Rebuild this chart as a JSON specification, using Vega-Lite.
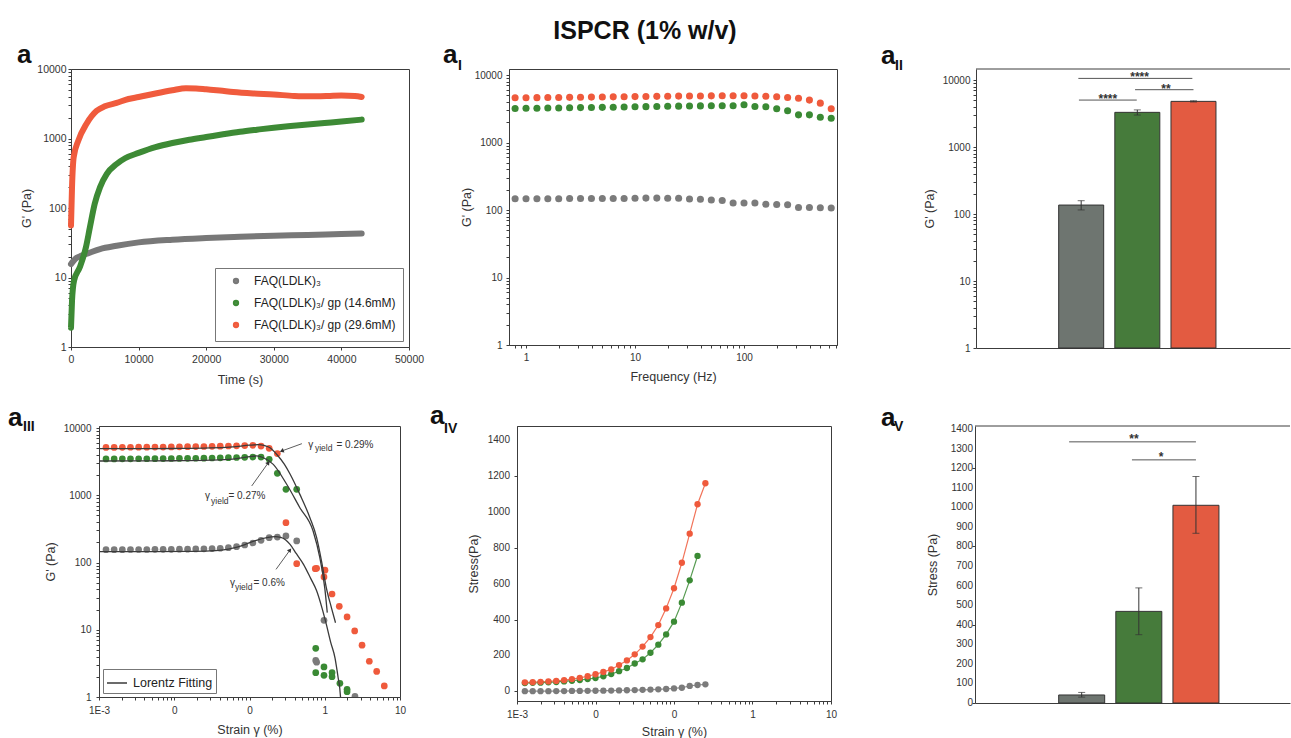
{
  "$schema": "https://vega.github.io/schema/vega-lite/v6.json",
  "background": "white",
  "padding": {"left": 0, "top": 18, "right": 0, "bottom": 0},
  "config": {
    "font": "Liberation Sans",
    "view": {"stroke": "#3c3c3c", "strokeWidth": 1},
    "axis": {"grid": false, "labelFont": "Liberation Sans", "titleFont": "Liberation Sans", "labelFontSize": 10, "titleFontSize": 12.5, "titleFontWeight": "normal", "labelColor": "#333", "titleColor": "#333", "domainColor": "#3c3c3c", "tickColor": "#3c3c3c", "tickSize": 3, "labelFlush": false, "labelOverlap": false, "labelBound": false},
    "legend": {"labelFont": "Liberation Sans", "labelColor": "#222"}
  },
  "datasets": {
    "ts": [
      {"s": "FAQ(LDLK)₃", "t": 0, "g": 15.6}, {"s": "FAQ(LDLK)₃", "t": 300, "g": 17}, {"s": "FAQ(LDLK)₃", "t": 600, "g": 18.4}, {"s": "FAQ(LDLK)₃", "t": 1500, "g": 20.5}, {"s": "FAQ(LDLK)₃", "t": 2500, "g": 22.2}, {"s": "FAQ(LDLK)₃", "t": 4300, "g": 25.7}, {"s": "FAQ(LDLK)₃", "t": 6750, "g": 28.6}, {"s": "FAQ(LDLK)₃", "t": 10000, "g": 32}, {"s": "FAQ(LDLK)₃", "t": 15000, "g": 35}, {"s": "FAQ(LDLK)₃", "t": 20000, "g": 37}, {"s": "FAQ(LDLK)₃", "t": 25000, "g": 38.6}, {"s": "FAQ(LDLK)₃", "t": 30000, "g": 40}, {"s": "FAQ(LDLK)₃", "t": 35000, "g": 41}, {"s": "FAQ(LDLK)₃", "t": 40000, "g": 42.3}, {"s": "FAQ(LDLK)₃", "t": 43000, "g": 43},
      {"s": "FAQ(LDLK)₃/ gp (14.6mM)", "t": 0, "g": 1.9}, {"s": "FAQ(LDLK)₃/ gp (14.6mM)", "t": 150, "g": 4.6}, {"s": "FAQ(LDLK)₃/ gp (14.6mM)", "t": 450, "g": 9}, {"s": "FAQ(LDLK)₃/ gp (14.6mM)", "t": 1300, "g": 14}, {"s": "FAQ(LDLK)₃/ gp (14.6mM)", "t": 2200, "g": 27}, {"s": "FAQ(LDLK)₃/ gp (14.6mM)", "t": 2800, "g": 53}, {"s": "FAQ(LDLK)₃/ gp (14.6mM)", "t": 3500, "g": 114}, {"s": "FAQ(LDLK)₃/ gp (14.6mM)", "t": 4300, "g": 200}, {"s": "FAQ(LDLK)₃/ gp (14.6mM)", "t": 5300, "g": 310}, {"s": "FAQ(LDLK)₃/ gp (14.6mM)", "t": 6750, "g": 430}, {"s": "FAQ(LDLK)₃/ gp (14.6mM)", "t": 8000, "g": 520}, {"s": "FAQ(LDLK)₃/ gp (14.6mM)", "t": 10000, "g": 620}, {"s": "FAQ(LDLK)₃/ gp (14.6mM)", "t": 12500, "g": 750}, {"s": "FAQ(LDLK)₃/ gp (14.6mM)", "t": 15000, "g": 860}, {"s": "FAQ(LDLK)₃/ gp (14.6mM)", "t": 17500, "g": 960}, {"s": "FAQ(LDLK)₃/ gp (14.6mM)", "t": 20000, "g": 1050}, {"s": "FAQ(LDLK)₃/ gp (14.6mM)", "t": 22500, "g": 1150}, {"s": "FAQ(LDLK)₃/ gp (14.6mM)", "t": 25000, "g": 1250}, {"s": "FAQ(LDLK)₃/ gp (14.6mM)", "t": 27500, "g": 1340}, {"s": "FAQ(LDLK)₃/ gp (14.6mM)", "t": 30000, "g": 1430}, {"s": "FAQ(LDLK)₃/ gp (14.6mM)", "t": 32500, "g": 1510}, {"s": "FAQ(LDLK)₃/ gp (14.6mM)", "t": 35000, "g": 1590}, {"s": "FAQ(LDLK)₃/ gp (14.6mM)", "t": 37500, "g": 1670}, {"s": "FAQ(LDLK)₃/ gp (14.6mM)", "t": 40000, "g": 1750}, {"s": "FAQ(LDLK)₃/ gp (14.6mM)", "t": 43000, "g": 1870},
      {"s": "FAQ(LDLK)₃/ gp (29.6mM)", "t": 0, "g": 56}, {"s": "FAQ(LDLK)₃/ gp (29.6mM)", "t": 150, "g": 200}, {"s": "FAQ(LDLK)₃/ gp (29.6mM)", "t": 400, "g": 540}, {"s": "FAQ(LDLK)₃/ gp (29.6mM)", "t": 1100, "g": 940}, {"s": "FAQ(LDLK)₃/ gp (29.6mM)", "t": 2300, "g": 1630}, {"s": "FAQ(LDLK)₃/ gp (29.6mM)", "t": 3800, "g": 2500}, {"s": "FAQ(LDLK)₃/ gp (29.6mM)", "t": 5000, "g": 2900}, {"s": "FAQ(LDLK)₃/ gp (29.6mM)", "t": 6750, "g": 3250}, {"s": "FAQ(LDLK)₃/ gp (29.6mM)", "t": 8500, "g": 3700}, {"s": "FAQ(LDLK)₃/ gp (29.6mM)", "t": 10000, "g": 3950}, {"s": "FAQ(LDLK)₃/ gp (29.6mM)", "t": 12500, "g": 4450}, {"s": "FAQ(LDLK)₃/ gp (29.6mM)", "t": 15000, "g": 4950}, {"s": "FAQ(LDLK)₃/ gp (29.6mM)", "t": 17000, "g": 5300}, {"s": "FAQ(LDLK)₃/ gp (29.6mM)", "t": 18500, "g": 5250}, {"s": "FAQ(LDLK)₃/ gp (29.6mM)", "t": 20000, "g": 5100}, {"s": "FAQ(LDLK)₃/ gp (29.6mM)", "t": 22000, "g": 4900}, {"s": "FAQ(LDLK)₃/ gp (29.6mM)", "t": 24000, "g": 4670}, {"s": "FAQ(LDLK)₃/ gp (29.6mM)", "t": 27000, "g": 4450}, {"s": "FAQ(LDLK)₃/ gp (29.6mM)", "t": 30000, "g": 4300}, {"s": "FAQ(LDLK)₃/ gp (29.6mM)", "t": 33000, "g": 4100}, {"s": "FAQ(LDLK)₃/ gp (29.6mM)", "t": 35000, "g": 4040}, {"s": "FAQ(LDLK)₃/ gp (29.6mM)", "t": 38000, "g": 4100}, {"s": "FAQ(LDLK)₃/ gp (29.6mM)", "t": 40000, "g": 4170}, {"s": "FAQ(LDLK)₃/ gp (29.6mM)", "t": 42000, "g": 4100}, {"s": "FAQ(LDLK)₃/ gp (29.6mM)", "t": 43000, "g": 3960}
    ],
    "fq": [
      {"s": "g", "f": 0.794, "v": 147}, {"s": "g", "f": 1, "v": 147}, {"s": "g", "f": 1.259, "v": 147}, {"s": "g", "f": 1.585, "v": 147}, {"s": "g", "f": 1.995, "v": 147}, {"s": "g", "f": 2.512, "v": 148}, {"s": "g", "f": 3.162, "v": 148}, {"s": "g", "f": 3.981, "v": 148}, {"s": "g", "f": 5.012, "v": 148}, {"s": "g", "f": 6.31, "v": 148}, {"s": "g", "f": 7.943, "v": 148}, {"s": "g", "f": 10, "v": 149}, {"s": "g", "f": 12.59, "v": 150}, {"s": "g", "f": 15.85, "v": 150}, {"s": "g", "f": 19.95, "v": 149}, {"s": "g", "f": 25.12, "v": 149}, {"s": "g", "f": 31.62, "v": 146}, {"s": "g", "f": 39.81, "v": 144}, {"s": "g", "f": 50.12, "v": 141}, {"s": "g", "f": 63.1, "v": 138}, {"s": "g", "f": 79.43, "v": 127}, {"s": "g", "f": 100, "v": 127}, {"s": "g", "f": 125.9, "v": 127}, {"s": "g", "f": 158.5, "v": 122}, {"s": "g", "f": 199.5, "v": 121}, {"s": "g", "f": 251.2, "v": 120}, {"s": "g", "f": 316.2, "v": 109}, {"s": "g", "f": 398.1, "v": 109}, {"s": "g", "f": 501.2, "v": 108}, {"s": "g", "f": 631, "v": 107},
      {"s": "gp14", "f": 0.794, "v": 3200}, {"s": "gp14", "f": 1, "v": 3210}, {"s": "gp14", "f": 1.259, "v": 3220}, {"s": "gp14", "f": 1.585, "v": 3240}, {"s": "gp14", "f": 1.995, "v": 3250}, {"s": "gp14", "f": 2.512, "v": 3270}, {"s": "gp14", "f": 3.162, "v": 3290}, {"s": "gp14", "f": 3.981, "v": 3300}, {"s": "gp14", "f": 5.012, "v": 3320}, {"s": "gp14", "f": 6.31, "v": 3340}, {"s": "gp14", "f": 7.943, "v": 3360}, {"s": "gp14", "f": 10, "v": 3380}, {"s": "gp14", "f": 12.59, "v": 3400}, {"s": "gp14", "f": 15.85, "v": 3420}, {"s": "gp14", "f": 19.95, "v": 3440}, {"s": "gp14", "f": 25.12, "v": 3460}, {"s": "gp14", "f": 31.62, "v": 3480}, {"s": "gp14", "f": 39.81, "v": 3490}, {"s": "gp14", "f": 50.12, "v": 3500}, {"s": "gp14", "f": 63.1, "v": 3510}, {"s": "gp14", "f": 79.43, "v": 3510}, {"s": "gp14", "f": 100, "v": 3620}, {"s": "gp14", "f": 125.9, "v": 3420}, {"s": "gp14", "f": 158.5, "v": 3380}, {"s": "gp14", "f": 199.5, "v": 3160}, {"s": "gp14", "f": 251.2, "v": 2950}, {"s": "gp14", "f": 316.2, "v": 2570}, {"s": "gp14", "f": 398.1, "v": 2570}, {"s": "gp14", "f": 501.2, "v": 2370}, {"s": "gp14", "f": 631, "v": 2290},
      {"s": "gp29", "f": 0.794, "v": 4600}, {"s": "gp29", "f": 1, "v": 4610}, {"s": "gp29", "f": 1.259, "v": 4620}, {"s": "gp29", "f": 1.585, "v": 4640}, {"s": "gp29", "f": 1.995, "v": 4650}, {"s": "gp29", "f": 2.512, "v": 4670}, {"s": "gp29", "f": 3.162, "v": 4690}, {"s": "gp29", "f": 3.981, "v": 4710}, {"s": "gp29", "f": 5.012, "v": 4730}, {"s": "gp29", "f": 6.31, "v": 4750}, {"s": "gp29", "f": 7.943, "v": 4770}, {"s": "gp29", "f": 10, "v": 4790}, {"s": "gp29", "f": 12.59, "v": 4810}, {"s": "gp29", "f": 15.85, "v": 4830}, {"s": "gp29", "f": 19.95, "v": 4850}, {"s": "gp29", "f": 25.12, "v": 4870}, {"s": "gp29", "f": 31.62, "v": 4880}, {"s": "gp29", "f": 39.81, "v": 4900}, {"s": "gp29", "f": 50.12, "v": 4910}, {"s": "gp29", "f": 63.1, "v": 4920}, {"s": "gp29", "f": 79.43, "v": 4920}, {"s": "gp29", "f": 100, "v": 4920}, {"s": "gp29", "f": 125.9, "v": 4900}, {"s": "gp29", "f": 158.5, "v": 4850}, {"s": "gp29", "f": 199.5, "v": 4760}, {"s": "gp29", "f": 251.2, "v": 4650}, {"s": "gp29", "f": 316.2, "v": 4540}, {"s": "gp29", "f": 398.1, "v": 4250}, {"s": "gp29", "f": 501.2, "v": 3830}, {"s": "gp29", "f": 631, "v": 3160}
    ],
    "b1": [
      {"s": "g", "pos": 1, "v": 136, "lo": 115, "hi": 158},
      {"s": "gp14", "pos": 2, "v": 3290, "lo": 3000, "hi": 3580},
      {"s": "gp29", "pos": 3, "v": 4800, "lo": 4700, "hi": 4900}
    ],
    "br1": [
      {"x1": 0.95, "x2": 2.98, "xm": 2.04, "y": 10570, "lab": "****"},
      {"x1": 0.96, "x2": 1.99, "xm": 1.475, "y": 5020, "lab": "****"},
      {"x1": 1.96, "x2": 3.0, "xm": 2.51, "y": 7170, "lab": "**"}
    ],
    "amp": [
      {"s": "g", "x": 0.001239, "g": 155}, {"s": "g", "x": 0.00159, "g": 155}, {"s": "g", "x": 0.002042, "g": 155}, {"s": "g", "x": 0.00262, "g": 156}, {"s": "g", "x": 0.003363, "g": 156}, {"s": "g", "x": 0.004317, "g": 156}, {"s": "g", "x": 0.005542, "g": 157}, {"s": "g", "x": 0.007113, "g": 157}, {"s": "g", "x": 0.009131, "g": 157}, {"s": "g", "x": 0.01172, "g": 158}, {"s": "g", "x": 0.01504, "g": 158}, {"s": "g", "x": 0.01931, "g": 159}, {"s": "g", "x": 0.02479, "g": 160}, {"s": "g", "x": 0.03182, "g": 161}, {"s": "g", "x": 0.04084, "g": 163}, {"s": "g", "x": 0.05243, "g": 166}, {"s": "g", "x": 0.0673, "g": 172}, {"s": "g", "x": 0.08641, "g": 182}, {"s": "g", "x": 0.1109, "g": 195}, {"s": "g", "x": 0.1423, "g": 214}, {"s": "g", "x": 0.1827, "g": 234}, {"s": "g", "x": 0.2345, "g": 239},
      {"s": "g", "x": 0.305, "g": 248}, {"s": "g", "x": 0.424, "g": 209}, {"s": "g", "x": 0.759, "g": 3.5}, {"s": "g", "x": 0.78, "g": 3.3}, {"s": "g", "x": 0.977, "g": 13.8}, {"s": "g", "x": 2.52, "g": 1.02},
      {"s": "gp14", "x": 0.001239, "g": 3470}, {"s": "gp14", "x": 0.00159, "g": 3470}, {"s": "gp14", "x": 0.002042, "g": 3480}, {"s": "gp14", "x": 0.00262, "g": 3480}, {"s": "gp14", "x": 0.003363, "g": 3490}, {"s": "gp14", "x": 0.004317, "g": 3490}, {"s": "gp14", "x": 0.005542, "g": 3500}, {"s": "gp14", "x": 0.007113, "g": 3510}, {"s": "gp14", "x": 0.009131, "g": 3520}, {"s": "gp14", "x": 0.01172, "g": 3530}, {"s": "gp14", "x": 0.01504, "g": 3540}, {"s": "gp14", "x": 0.01931, "g": 3550}, {"s": "gp14", "x": 0.02479, "g": 3560}, {"s": "gp14", "x": 0.03182, "g": 3580}, {"s": "gp14", "x": 0.04084, "g": 3600}, {"s": "gp14", "x": 0.05243, "g": 3620}, {"s": "gp14", "x": 0.0673, "g": 3640}, {"s": "gp14", "x": 0.08641, "g": 3670}, {"s": "gp14", "x": 0.1109, "g": 3700}, {"s": "gp14", "x": 0.1423, "g": 3700}, {"s": "gp14", "x": 0.1827, "g": 3430}, {"s": "gp14", "x": 0.2345, "g": 2120},
      {"s": "gp14", "x": 0.305, "g": 1225}, {"s": "gp14", "x": 0.424, "g": 1225}, {"s": "gp14", "x": 0.759, "g": 5.3}, {"s": "gp14", "x": 0.759, "g": 2.3}, {"s": "gp14", "x": 0.977, "g": 2.8}, {"s": "gp14", "x": 0.977, "g": 2.1}, {"s": "gp14", "x": 1.25, "g": 2.3}, {"s": "gp14", "x": 1.25, "g": 2.0}, {"s": "gp14", "x": 1.59, "g": 1.6}, {"s": "gp14", "x": 1.98, "g": 1.3}, {"s": "gp14", "x": 1.98, "g": 1.2},
      {"s": "gp29", "x": 0.001239, "g": 5150}, {"s": "gp29", "x": 0.00159, "g": 5150}, {"s": "gp29", "x": 0.002042, "g": 5160}, {"s": "gp29", "x": 0.00262, "g": 5170}, {"s": "gp29", "x": 0.003363, "g": 5180}, {"s": "gp29", "x": 0.004317, "g": 5190}, {"s": "gp29", "x": 0.005542, "g": 5200}, {"s": "gp29", "x": 0.007113, "g": 5210}, {"s": "gp29", "x": 0.009131, "g": 5230}, {"s": "gp29", "x": 0.01172, "g": 5250}, {"s": "gp29", "x": 0.01504, "g": 5270}, {"s": "gp29", "x": 0.01931, "g": 5290}, {"s": "gp29", "x": 0.02479, "g": 5310}, {"s": "gp29", "x": 0.03182, "g": 5340}, {"s": "gp29", "x": 0.04084, "g": 5370}, {"s": "gp29", "x": 0.05243, "g": 5400}, {"s": "gp29", "x": 0.0673, "g": 5440}, {"s": "gp29", "x": 0.08641, "g": 5480}, {"s": "gp29", "x": 0.1109, "g": 5520}, {"s": "gp29", "x": 0.1423, "g": 5390}, {"s": "gp29", "x": 0.1827, "g": 4990}, {"s": "gp29", "x": 0.2345, "g": 4160},
      {"s": "gp29", "x": 0.305, "g": 391}, {"s": "gp29", "x": 0.424, "g": 96}, {"s": "gp29", "x": 0.748, "g": 81}, {"s": "gp29", "x": 0.78, "g": 82}, {"s": "gp29", "x": 0.977, "g": 61}, {"s": "gp29", "x": 1.007, "g": 77}, {"s": "gp29", "x": 1.25, "g": 34}, {"s": "gp29", "x": 1.56, "g": 22.3}, {"s": "gp29", "x": 1.98, "g": 15.5}, {"s": "gp29", "x": 2.5, "g": 9.6}, {"s": "gp29", "x": 3.13, "g": 5.9}, {"s": "gp29", "x": 3.91, "g": 3.4}, {"s": "gp29", "x": 4.9, "g": 2.4}, {"s": "gp29", "x": 6.18, "g": 1.46}
    ],
    "fit": [
      {"s": "g", "x": 0.001, "g": 145}, {"s": "g", "x": 0.005, "g": 145}, {"s": "g", "x": 0.015, "g": 146}, {"s": "g", "x": 0.03, "g": 149}, {"s": "g", "x": 0.045, "g": 154}, {"s": "g", "x": 0.06, "g": 163}, {"s": "g", "x": 0.087, "g": 185}, {"s": "g", "x": 0.12, "g": 212}, {"s": "g", "x": 0.17, "g": 235}, {"s": "g", "x": 0.22, "g": 242}, {"s": "g", "x": 0.26, "g": 236}, {"s": "g", "x": 0.3, "g": 218}, {"s": "g", "x": 0.346, "g": 186}, {"s": "g", "x": 0.42, "g": 135}, {"s": "g", "x": 0.522, "g": 94}, {"s": "g", "x": 0.65, "g": 58}, {"s": "g", "x": 0.78, "g": 38}, {"s": "g", "x": 0.92, "g": 21}, {"s": "g", "x": 1.05, "g": 12}, {"s": "g", "x": 1.2, "g": 6.5}, {"s": "g", "x": 1.37, "g": 3.8}, {"s": "g", "x": 1.5, "g": 2.0}, {"s": "g", "x": 1.58, "g": 1.37}, {"s": "g", "x": 1.62, "g": 1.0},
      {"s": "gp14", "x": 0.001, "g": 3230}, {"s": "gp14", "x": 0.003, "g": 3240}, {"s": "gp14", "x": 0.01, "g": 3260}, {"s": "gp14", "x": 0.03, "g": 3320}, {"s": "gp14", "x": 0.06, "g": 3450}, {"s": "gp14", "x": 0.1, "g": 3750}, {"s": "gp14", "x": 0.125, "g": 3840}, {"s": "gp14", "x": 0.153, "g": 3610}, {"s": "gp14", "x": 0.207, "g": 2880}, {"s": "gp14", "x": 0.312, "g": 1456}, {"s": "gp14", "x": 0.467, "g": 653}, {"s": "gp14", "x": 0.7, "g": 294}, {"s": "gp14", "x": 0.86, "g": 118}, {"s": "gp14", "x": 1.0, "g": 42}, {"s": "gp14", "x": 1.08, "g": 18},
      {"s": "gp29", "x": 0.001, "g": 4920}, {"s": "gp29", "x": 0.003, "g": 4930}, {"s": "gp29", "x": 0.01, "g": 4960}, {"s": "gp29", "x": 0.03, "g": 5050}, {"s": "gp29", "x": 0.06, "g": 5250}, {"s": "gp29", "x": 0.1, "g": 5550}, {"s": "gp29", "x": 0.13, "g": 5650}, {"s": "gp29", "x": 0.16, "g": 5450}, {"s": "gp29", "x": 0.187, "g": 5090}, {"s": "gp29", "x": 0.234, "g": 3970}, {"s": "gp29", "x": 0.29, "g": 2900}, {"s": "gp29", "x": 0.347, "g": 2050}, {"s": "gp29", "x": 0.467, "g": 1030}, {"s": "gp29", "x": 0.635, "g": 464}, {"s": "gp29", "x": 0.78, "g": 234}, {"s": "gp29", "x": 0.906, "g": 105}, {"s": "gp29", "x": 1.05, "g": 42}, {"s": "gp29", "x": 1.23, "g": 21}, {"s": "gp29", "x": 1.39, "g": 12.7}
    ],
    "annM": [
      {"x": 0.604, "y": 5045, "t": "γ"}, {"x": 1.43, "y": 5045, "t": "= 0.29%"},
      {"x": 0.0256, "y": 889, "t": "γ"}, {"x": 0.0525, "y": 889, "t": "= 0.27%"},
      {"x": 0.0551, "y": 44.8, "t": "γ"}, {"x": 0.113, "y": 44.8, "t": "= 0.6%"}
    ],
    "annS": [
      {"x": 0.741, "y": 4478, "t": "yield"},
      {"x": 0.0308, "y": 741, "t": "yield"},
      {"x": 0.0641, "y": 39, "t": "yield"}
    ],
    "arr": [
      {"x": 0.497, "y": 5850, "x2": 0.268, "y2": 4550},
      {"x": 0.107, "y": 1374, "x2": 0.178, "y2": 3050},
      {"x": 0.225, "y": 79, "x2": 0.345, "y2": 153}
    ],
    "ss": [
      {"s": "g", "x": 0.001259, "v": 1}, {"s": "g", "x": 0.001585, "v": 1}, {"s": "g", "x": 0.001995, "v": 1}, {"s": "g", "x": 0.002512, "v": 1}, {"s": "g", "x": 0.003162, "v": 1.5}, {"s": "g", "x": 0.003981, "v": 1.5}, {"s": "g", "x": 0.005012, "v": 2}, {"s": "g", "x": 0.00631, "v": 2}, {"s": "g", "x": 0.007943, "v": 2.5}, {"s": "g", "x": 0.01, "v": 3}, {"s": "g", "x": 0.01259, "v": 3.5}, {"s": "g", "x": 0.01585, "v": 4}, {"s": "g", "x": 0.01995, "v": 5}, {"s": "g", "x": 0.02512, "v": 6}, {"s": "g", "x": 0.03162, "v": 7}, {"s": "g", "x": 0.03981, "v": 8}, {"s": "g", "x": 0.05012, "v": 9.5}, {"s": "g", "x": 0.0631, "v": 11}, {"s": "g", "x": 0.07943, "v": 13}, {"s": "g", "x": 0.1, "v": 16}, {"s": "g", "x": 0.1259, "v": 20}, {"s": "g", "x": 0.1585, "v": 30}, {"s": "g", "x": 0.1995, "v": 35}, {"s": "g", "x": 0.2512, "v": 39},
      {"s": "gp14", "x": 0.001259, "v": 46}, {"s": "gp14", "x": 0.001585, "v": 47}, {"s": "gp14", "x": 0.001995, "v": 48}, {"s": "gp14", "x": 0.002512, "v": 50}, {"s": "gp14", "x": 0.003162, "v": 52}, {"s": "gp14", "x": 0.003981, "v": 55}, {"s": "gp14", "x": 0.005012, "v": 59}, {"s": "gp14", "x": 0.00631, "v": 63}, {"s": "gp14", "x": 0.007943, "v": 68}, {"s": "gp14", "x": 0.01, "v": 74}, {"s": "gp14", "x": 0.01259, "v": 84}, {"s": "gp14", "x": 0.01585, "v": 96}, {"s": "gp14", "x": 0.01995, "v": 112}, {"s": "gp14", "x": 0.02512, "v": 130}, {"s": "gp14", "x": 0.03162, "v": 155}, {"s": "gp14", "x": 0.03981, "v": 178}, {"s": "gp14", "x": 0.05012, "v": 215}, {"s": "gp14", "x": 0.0631, "v": 260}, {"s": "gp14", "x": 0.07943, "v": 317}, {"s": "gp14", "x": 0.1, "v": 388}, {"s": "gp14", "x": 0.1259, "v": 494}, {"s": "gp14", "x": 0.1585, "v": 618}, {"s": "gp14", "x": 0.1995, "v": 754},
      {"s": "gp29", "x": 0.001259, "v": 50}, {"s": "gp29", "x": 0.001585, "v": 51}, {"s": "gp29", "x": 0.001995, "v": 53}, {"s": "gp29", "x": 0.002512, "v": 55}, {"s": "gp29", "x": 0.003162, "v": 58}, {"s": "gp29", "x": 0.003981, "v": 62}, {"s": "gp29", "x": 0.005012, "v": 68}, {"s": "gp29", "x": 0.00631, "v": 75}, {"s": "gp29", "x": 0.007943, "v": 84}, {"s": "gp29", "x": 0.01, "v": 95}, {"s": "gp29", "x": 0.01259, "v": 108}, {"s": "gp29", "x": 0.01585, "v": 122}, {"s": "gp29", "x": 0.01995, "v": 146}, {"s": "gp29", "x": 0.02512, "v": 172}, {"s": "gp29", "x": 0.03162, "v": 206}, {"s": "gp29", "x": 0.03981, "v": 249}, {"s": "gp29", "x": 0.05012, "v": 302}, {"s": "gp29", "x": 0.0631, "v": 369}, {"s": "gp29", "x": 0.07943, "v": 462}, {"s": "gp29", "x": 0.1, "v": 574}, {"s": "gp29", "x": 0.1259, "v": 716}, {"s": "gp29", "x": 0.1585, "v": 878}, {"s": "gp29", "x": 0.1995, "v": 1042}, {"s": "gp29", "x": 0.2512, "v": 1159}
    ],
    "b2": [
      {"s": "g", "pos": 1, "v": 41, "lo": 30, "hi": 54},
      {"s": "gp14", "pos": 2, "v": 468, "lo": 349, "hi": 588},
      {"s": "gp29", "pos": 3, "v": 1010, "lo": 867, "hi": 1157}
    ],
    "br2": [
      {"x1": 0.78, "x2": 3.0, "xm": 1.915, "y": 1334, "lab": "**"},
      {"x1": 1.88, "x2": 3.0, "xm": 2.39, "y": 1242, "lab": "*"}
    ],
    "lab4": [{"v": 0}, {"v": 200}, {"v": 400}, {"v": 600}, {"v": 800}, {"v": 1000}, {"v": 1200}, {"v": 1400}],
    "lab5": [{"v": 0}, {"v": 100}, {"v": 200}, {"v": 300}, {"v": 400}, {"v": 500}, {"v": 600}, {"v": 700}, {"v": 800}, {"v": 900}, {"v": 1000}, {"v": 1100}, {"v": 1200}, {"v": 1300}, {"v": 1400}]
  },
  "resolve": {"scale": {"color": "independent"}, "legend": {"color": "independent"}},
  "vconcat": [
    {
      "spacing": 0,
      "bounds": "flush",
      "resolve": {"scale": {"color": "independent"}, "legend": {"color": "independent"}},
      "hconcat": [
        {"width": 71, "height": 20, "data": {"values": []}, "mark": "point", "view": {"stroke": null}},
        {
          "width": 338, "height": 278,
          "layer": [
            {
              "data": {"name": "ts"},
              "mark": {"type": "line", "strokeWidth": 6, "strokeCap": "round", "strokeJoin": "round", "interpolate": "monotone"},
              "encoding": {
                "x": {"field": "t", "type": "quantitative", "scale": {"domain": [0, 50000], "nice": false, "zero": false},
                  "axis": {"values": [0, 10000, 20000, 30000, 40000, 50000], "format": "d", "title": "Time (s)", "labelFontSize": 10.5, "labelPadding": 4, "titlePadding": 9, "labelOverlap": false}},
                "y": {"field": "g", "type": "quantitative", "scale": {"type": "log", "domain": [1, 10000], "nice": false},
                  "axis": {"values": [1,2,3,4,5,6,7,8,9,10,20,30,40,50,60,70,80,90,100,200,300,400,500,600,700,800,900,1000,2000,3000,4000,5000,6000,7000,8000,9000,10000], "format": "d", "labelExpr": "indexof([1,10,100,1000,10000], datum.value) >= 0 ? datum.label : ''", "title": "G' (Pa)", "labelFontSize": 10.5, "labelPadding": 2, "titlePadding": 3, "labelOverlap": false}},
                "color": {"field": "s", "type": "nominal", "sort": null,
                  "scale": {"domain": ["FAQ(LDLK)₃", "FAQ(LDLK)₃/ gp (14.6mM)", "FAQ(LDLK)₃/ gp (29.6mM)"], "range": ["#787878", "#3d8a35", "#f05b3d"]},
                  "legend": {"title": null, "orient": "bottom-right", "offset": 6, "padding": 7, "strokeColor": "#777", "fillColor": "white", "symbolType": "circle", "symbolSize": 8, "symbolStrokeWidth": 3.5, "symbolOffset": 8, "labelFontSize": 12, "labelOffset": 12, "rowPadding": 4, "labelLimit": 400}}
              }
            },
            {"data": {"values": [{"lab": "a"}]}, "mark": {"type": "text", "fontSize": 26, "fontWeight": "bold", "align": "left", "baseline": "alphabetic", "dx": -54, "dy": -6, "color": "#111"}, "encoding": {"x": {"datum": 0}, "y": {"datum": 10000}, "text": {"field": "lab"}}}
          ]
        },
        {"width": 100, "height": 20, "data": {"values": []}, "mark": "point", "view": {"stroke": null}},
        {
          "width": 328, "height": 276,
          "layer": [
            {
              "data": {"name": "fq"},
              "mark": {"type": "circle", "size": 50, "opacity": 1},
              "encoding": {
                "x": {"field": "f", "type": "quantitative", "scale": {"type": "log", "domain": [0.698, 713], "nice": false},
                  "axis": {"values": [0.8,0.9,1,2,3,4,5,6,7,8,9,10,20,30,40,50,60,70,80,90,100,200,300,400,500,600,700], "format": "d", "labelExpr": "indexof([1,10,100], datum.value) >= 0 ? datum.label : ''", "title": "Frequency (Hz)", "labelPadding": 4, "titlePadding": 8, "labelOverlap": false}},
                "y": {"field": "v", "type": "quantitative", "scale": {"type": "log", "domain": [1, 12280], "nice": false},
                  "axis": {"values": [1,2,3,4,5,6,7,8,9,10,20,30,40,50,60,70,80,90,100,200,300,400,500,600,700,800,900,1000,2000,3000,4000,5000,6000,7000,8000,9000,10000], "format": "d", "labelExpr": "indexof([1,10,100,1000,10000], datum.value) >= 0 ? datum.label : ''", "title": "G' (Pa)", "labelPadding": 4, "titlePadding": 1, "labelOverlap": false}},
                "color": {"field": "s", "type": "nominal", "scale": {"domain": ["g", "gp14", "gp29"], "range": ["#7b7b7b", "#3a8a34", "#ef5a3c"]}, "legend": null}
              }
            },
            {"data": {"values": [{"lab": "a"}]}, "mark": {"type": "text", "fontSize": 26, "fontWeight": "bold", "align": "left", "baseline": "alphabetic", "dx": -66, "dy": -6, "color": "#111"}, "encoding": {"x": {"datum": 0.698}, "y": {"datum": 12280}, "text": {"field": "lab"}}},
            {"data": {"values": [{"lab": "I"}]}, "mark": {"type": "text", "fontSize": 14, "fontWeight": "bold", "align": "left", "baseline": "alphabetic", "dx": -51, "dy": 1, "color": "#111"}, "encoding": {"x": {"datum": 0.698}, "y": {"datum": 12280}, "text": {"field": "lab"}}},
            {"data": {"values": [{"lab": "ISPCR (1% w/v)"}]}, "mark": {"type": "text", "fontSize": 25, "fontWeight": "bold", "align": "center", "baseline": "alphabetic", "dx": 136, "dy": -30, "color": "#111"}, "encoding": {"x": {"datum": 0.698}, "y": {"datum": 12280}, "text": {"field": "lab"}}}
          ]
        },
        {"width": 139, "height": 20, "data": {"values": []}, "mark": "point", "view": {"stroke": null}},
        {
          "width": 314, "height": 279,
          "view": {"stroke": null},
          "layer": [
            {
              "data": {"name": "b1"},
              "mark": {"type": "bar", "width": 45, "stroke": "#333", "strokeWidth": 1},
              "encoding": {
                "x": {"field": "pos", "type": "quantitative", "scale": {"domain": [-0.784, 4.63], "nice": false, "zero": false}, "axis": {"labels": false, "ticks": false, "title": null}},
                "y": {"field": "v", "type": "quantitative", "scale": {"type": "log", "domain": [1, 14600], "nice": false},
                  "axis": {"values": [1,2,3,4,5,6,7,8,9,10,20,30,40,50,60,70,80,90,100,200,300,400,500,600,700,800,900,1000,2000,3000,4000,5000,6000,7000,8000,9000,10000], "format": "d", "labelExpr": "indexof([1,10,100,1000,10000], datum.value) >= 0 ? datum.label : ''", "title": "G' (Pa)", "labelPadding": 3, "titlePadding": 6, "labelOverlap": false}},
                "y2": {"datum": 1},
                "color": {"field": "s", "type": "nominal", "scale": {"domain": ["g", "gp14", "gp29"], "range": ["#6e7570", "#467b3b", "#e35b41"]}, "legend": null}
              }
            },
            {"data": {"name": "b1"}, "mark": {"type": "rule", "color": "#333", "strokeWidth": 1}, "encoding": {"x": {"field": "pos", "type": "quantitative"}, "y": {"field": "lo", "type": "quantitative"}, "y2": {"field": "hi"}}},
            {"data": {"name": "b1"}, "mark": {"type": "tick", "orient": "horizontal", "size": 7, "thickness": 1, "color": "#333"}, "encoding": {"x": {"field": "pos", "type": "quantitative"}, "y": {"field": "lo", "type": "quantitative"}}},
            {"data": {"name": "b1"}, "mark": {"type": "tick", "orient": "horizontal", "size": 7, "thickness": 1, "color": "#333"}, "encoding": {"x": {"field": "pos", "type": "quantitative"}, "y": {"field": "hi", "type": "quantitative"}}},
            {"data": {"name": "br1"}, "mark": {"type": "rule", "color": "#555", "strokeWidth": 1}, "encoding": {"x": {"field": "x1", "type": "quantitative"}, "x2": {"field": "x2"}, "y": {"field": "y", "type": "quantitative"}}},
            {"data": {"name": "br1"}, "mark": {"type": "text", "fontSize": 12, "fontWeight": "bold", "baseline": "alphabetic", "dy": 3, "color": "#333"}, "encoding": {"x": {"field": "xm", "type": "quantitative"}, "y": {"field": "y", "type": "quantitative"}, "text": {"field": "lab"}}},
            {"data": {"values": [{}]}, "mark": {"type": "rule", "color": "#3c3c3c", "strokeWidth": 1}, "encoding": {"y": {"datum": 14600}}},
            {"data": {"values": [{"lab": "a"}]}, "mark": {"type": "text", "fontSize": 26, "fontWeight": "bold", "align": "left", "baseline": "alphabetic", "dx": -100, "dy": -5, "color": "#111"}, "encoding": {"x": {"datum": -0.784}, "y": {"datum": 14600}, "text": {"field": "lab"}}},
            {"data": {"values": [{"lab": "II"}]}, "mark": {"type": "text", "fontSize": 14, "fontWeight": "bold", "align": "left", "baseline": "alphabetic", "dx": -86, "dy": 1, "color": "#111"}, "encoding": {"x": {"datum": -0.784}, "y": {"datum": 14600}, "text": {"field": "lab"}}}
          ]
        }
      ]
    },
    {
      "spacing": 0,
      "bounds": "flush",
      "resolve": {"scale": {"color": "independent"}, "legend": {"color": "independent"}},
      "hconcat": [
        {"width": 99, "height": 20, "data": {"values": []}, "mark": "point", "view": {"stroke": null}},
        {
          "width": 301, "height": 271,
          "resolve": {"scale": {"color": "independent"}, "legend": {"color": "independent"}},
          "layer": [
            {
              "data": {"name": "amp"},
              "mark": {"type": "circle", "size": 45, "opacity": 1, "clip": true},
              "encoding": {
                "x": {"field": "x", "type": "quantitative", "scale": {"type": "log", "domain": [0.001, 10], "nice": false},
                  "axis": {"values": [0.001,0.002,0.003,0.004,0.005,0.006,0.007,0.008,0.009,0.01,0.02,0.03,0.04,0.05,0.06,0.07,0.08,0.09,0.1,0.2,0.3,0.4,0.5,0.6,0.7,0.8,0.9,1,2,3,4,5,6,7,8,9,10], "labelExpr": "datum.value == 0.001 ? '1E-3' : (datum.value == 0.01 || datum.value == 0.1) ? '0' : datum.value == 1 ? '1' : datum.value == 10 ? '10' : ''", "title": "Strain γ (%)", "labelPadding": 5, "titlePadding": 8, "labelOverlap": false}},
                "y": {"field": "g", "type": "quantitative", "scale": {"type": "log", "domain": [1, 10710], "nice": false},
                  "axis": {"values": [1,2,3,4,5,6,7,8,9,10,20,30,40,50,60,70,80,90,100,200,300,400,500,600,700,800,900,1000,2000,3000,4000,5000,6000,7000,8000,9000,10000], "format": "d", "labelExpr": "indexof([1,10,100,1000,10000], datum.value) >= 0 ? datum.label : ''", "title": "G' (Pa)", "labelPadding": 5, "titlePadding": 6, "labelOverlap": false}},
                "color": {"field": "s", "type": "nominal", "scale": {"domain": ["g", "gp14", "gp29"], "range": ["#7b7b7b", "#3a8a34", "#ef5a3c"]}, "legend": null}
              }
            },
            {
              "data": {"name": "fit"},
              "mark": {"type": "line", "strokeWidth": 1.3, "interpolate": "monotone", "clip": true},
              "encoding": {
                "x": {"field": "x", "type": "quantitative"},
                "y": {"field": "g", "type": "quantitative"},
                "detail": {"field": "s"},
                "color": {"datum": "Lorentz Fitting", "type": "nominal", "scale": {"domain": ["Lorentz Fitting"], "range": ["#3a3a3a"]},
                  "legend": {"title": null, "orient": "bottom-left", "offset": 4, "padding": 3, "strokeColor": "#777", "fillColor": "white", "symbolType": "stroke", "symbolSize": 400, "symbolStrokeWidth": 1.5, "labelFontSize": 12.5, "labelOffset": 5}}
              }
            },
            {"data": {"name": "annM"}, "mark": {"type": "text", "fontSize": 10, "align": "left", "baseline": "alphabetic", "color": "#333"}, "encoding": {"x": {"field": "x", "type": "quantitative"}, "y": {"field": "y", "type": "quantitative"}, "text": {"field": "t"}}},
            {"data": {"name": "annS"}, "mark": {"type": "text", "fontSize": 8.5, "align": "left", "baseline": "alphabetic", "color": "#333"}, "encoding": {"x": {"field": "x", "type": "quantitative"}, "y": {"field": "y", "type": "quantitative"}, "text": {"field": "t"}}},
            {"data": {"name": "arr"}, "mark": {"type": "rule", "color": "#333", "strokeWidth": 0.8}, "encoding": {"x": {"field": "x", "type": "quantitative"}, "y": {"field": "y", "type": "quantitative"}, "x2": {"field": "x2"}, "y2": {"field": "y2"}}},
            {"data": {"values": [{"x": 0.268, "y": 4550}]}, "mark": {"type": "point", "shape": "triangle-up", "filled": true, "size": 22, "angle": 250, "color": "#333", "opacity": 1}, "encoding": {"x": {"field": "x", "type": "quantitative"}, "y": {"field": "y", "type": "quantitative"}}},
            {"data": {"values": [{"x": 0.178, "y": 3050}]}, "mark": {"type": "point", "shape": "triangle-up", "filled": true, "size": 22, "angle": 35, "color": "#333", "opacity": 1}, "encoding": {"x": {"field": "x", "type": "quantitative"}, "y": {"field": "y", "type": "quantitative"}}},
            {"data": {"values": [{"x": 0.345, "y": 153}]}, "mark": {"type": "point", "shape": "triangle-up", "filled": true, "size": 22, "angle": 36, "color": "#333", "opacity": 1}, "encoding": {"x": {"field": "x", "type": "quantitative"}, "y": {"field": "y", "type": "quantitative"}}},
            {"data": {"values": [{"lab": "a"}]}, "mark": {"type": "text", "fontSize": 26, "fontWeight": "bold", "align": "left", "baseline": "alphabetic", "dx": -91, "dy": 0, "color": "#111"}, "encoding": {"x": {"datum": 0.001}, "y": {"datum": 10710}, "text": {"field": "lab"}}},
            {"data": {"values": [{"lab": "III"}]}, "mark": {"type": "text", "fontSize": 14, "fontWeight": "bold", "align": "left", "baseline": "alphabetic", "dx": -76, "dy": 5, "color": "#111"}, "encoding": {"x": {"datum": 0.001}, "y": {"datum": 10710}, "text": {"field": "lab"}}}
          ]
        },
        {"width": 117, "height": 20, "data": {"values": []}, "mark": "point", "view": {"stroke": null}},
        {
          "width": 314, "height": 275,
          "layer": [
            {
              "data": {"name": "ss"},
              "mark": {"type": "line", "strokeWidth": 1.2, "opacity": 0.85},
              "encoding": {
                "x": {"field": "x", "type": "quantitative", "scale": {"type": "log", "domain": [0.001, 10], "nice": false},
                  "axis": {"values": [0.001,0.002,0.003,0.004,0.005,0.006,0.007,0.008,0.009,0.01,0.02,0.03,0.04,0.05,0.06,0.07,0.08,0.09,0.1,0.2,0.3,0.4,0.5,0.6,0.7,0.8,0.9,1,2,3,4,5,6,7,8,9,10], "labelExpr": "datum.value == 0.001 ? '1E-3' : (datum.value == 0.01 || datum.value == 0.1) ? '0' : datum.value == 1 ? '1' : datum.value == 10 ? '10' : ''", "title": "Strain γ (%)", "labelPadding": 5, "titlePadding": 6, "labelOverlap": false}},
                "y": {"field": "v", "type": "quantitative", "scale": {"domain": [-54, 1478], "nice": false, "zero": false},
                  "axis": {"values": [0,100,200,300,400,500,600,700,800,900,1000,1100,1200,1300,1400], "labels": false, "title": "Stress(Pa)", "titlePadding": 33}},
                "color": {"field": "s", "type": "nominal", "scale": {"domain": ["g", "gp14", "gp29"], "range": ["#7b7b7b", "#3a8a34", "#ef5a3c"]}, "legend": null}
              }
            },
            {
              "data": {"name": "ss"},
              "mark": {"type": "circle", "size": 40, "opacity": 1},
              "encoding": {
                "x": {"field": "x", "type": "quantitative"},
                "y": {"field": "v", "type": "quantitative"},
                "color": {"field": "s", "type": "nominal", "legend": null}
              }
            },
            {"data": {"name": "lab4"}, "mark": {"type": "text", "fontSize": 10, "align": "right", "baseline": "middle", "dx": -7, "color": "#333"}, "encoding": {"x": {"datum": 0.001}, "y": {"field": "v", "type": "quantitative"}, "text": {"field": "v", "type": "quantitative", "format": "d"}}},
            {"data": {"values": [{"lab": "a"}]}, "mark": {"type": "text", "fontSize": 26, "fontWeight": "bold", "align": "left", "baseline": "alphabetic", "dx": -87, "dy": -2, "color": "#111"}, "encoding": {"x": {"datum": 0.001}, "y": {"datum": 1478}, "text": {"field": "lab"}}},
            {"data": {"values": [{"lab": "IV"}]}, "mark": {"type": "text", "fontSize": 14, "fontWeight": "bold", "align": "left", "baseline": "alphabetic", "dx": -73, "dy": 7, "color": "#111"}, "encoding": {"x": {"datum": 0.001}, "y": {"datum": 1478}, "text": {"field": "lab"}}}
          ]
        },
        {"width": 144, "height": 20, "data": {"values": []}, "mark": "point", "view": {"stroke": null}},
        {
          "width": 315, "height": 277,
          "view": {"stroke": null},
          "layer": [
            {
              "data": {"name": "b2"},
              "mark": {"type": "bar", "width": 46, "stroke": "#333", "strokeWidth": 1},
              "encoding": {
                "x": {"field": "pos", "type": "quantitative", "scale": {"domain": [-0.78, 4.559], "nice": false, "zero": false}, "axis": {"labels": false, "ticks": false, "title": null}},
                "y": {"field": "v", "type": "quantitative", "scale": {"domain": [0, 1415], "nice": false, "zero": false},
                  "axis": {"values": [0,50,100,150,200,250,300,350,400,450,500,550,600,650,700,750,800,850,900,950,1000,1050,1100,1150,1200,1250,1300,1350,1400], "labels": false, "title": "Stress (Pa)", "titlePadding": 32}},
                "y2": {"datum": 0},
                "color": {"field": "s", "type": "nominal", "scale": {"domain": ["g", "gp14", "gp29"], "range": ["#6e7570", "#467b3b", "#e35b41"]}, "legend": null}
              }
            },
            {"data": {"name": "b2"}, "mark": {"type": "rule", "color": "#333", "strokeWidth": 1}, "encoding": {"x": {"field": "pos", "type": "quantitative"}, "y": {"field": "lo", "type": "quantitative"}, "y2": {"field": "hi"}}},
            {"data": {"name": "b2"}, "mark": {"type": "tick", "orient": "horizontal", "size": 7, "thickness": 1, "color": "#333"}, "encoding": {"x": {"field": "pos", "type": "quantitative"}, "y": {"field": "lo", "type": "quantitative"}}},
            {"data": {"name": "b2"}, "mark": {"type": "tick", "orient": "horizontal", "size": 7, "thickness": 1, "color": "#333"}, "encoding": {"x": {"field": "pos", "type": "quantitative"}, "y": {"field": "hi", "type": "quantitative"}}},
            {"data": {"name": "br2"}, "mark": {"type": "rule", "color": "#555", "strokeWidth": 1}, "encoding": {"x": {"field": "x1", "type": "quantitative"}, "x2": {"field": "x2"}, "y": {"field": "y", "type": "quantitative"}}},
            {"data": {"name": "br2"}, "mark": {"type": "text", "fontSize": 12, "fontWeight": "bold", "baseline": "alphabetic", "dy": 1, "color": "#333"}, "encoding": {"x": {"field": "xm", "type": "quantitative"}, "y": {"field": "y", "type": "quantitative"}, "text": {"field": "lab"}}},
            {"data": {"name": "lab5"}, "mark": {"type": "text", "fontSize": 10, "align": "right", "baseline": "middle", "dx": -7, "color": "#333"}, "encoding": {"x": {"datum": -0.78}, "y": {"field": "v", "type": "quantitative"}, "text": {"field": "v", "type": "quantitative", "format": "d"}}},
            {"data": {"values": [{}]}, "mark": {"type": "rule", "color": "#3c3c3c", "strokeWidth": 1}, "encoding": {"y": {"datum": 1415}}},
            {"data": {"values": [{"lab": "a"}]}, "mark": {"type": "text", "fontSize": 26, "fontWeight": "bold", "align": "left", "baseline": "alphabetic", "dx": -99, "dy": 0, "color": "#111"}, "encoding": {"x": {"datum": -0.78}, "y": {"datum": 1415}, "text": {"field": "lab"}}},
            {"data": {"values": [{"lab": "V"}]}, "mark": {"type": "text", "fontSize": 14, "fontWeight": "bold", "align": "left", "baseline": "alphabetic", "dx": -86, "dy": 5, "color": "#111"}, "encoding": {"x": {"datum": -0.78}, "y": {"datum": 1415}, "text": {"field": "lab"}}}
          ]
        }
      ]
    }
  ],
  "spacing": 357,
  "bounds": "flush"
}
